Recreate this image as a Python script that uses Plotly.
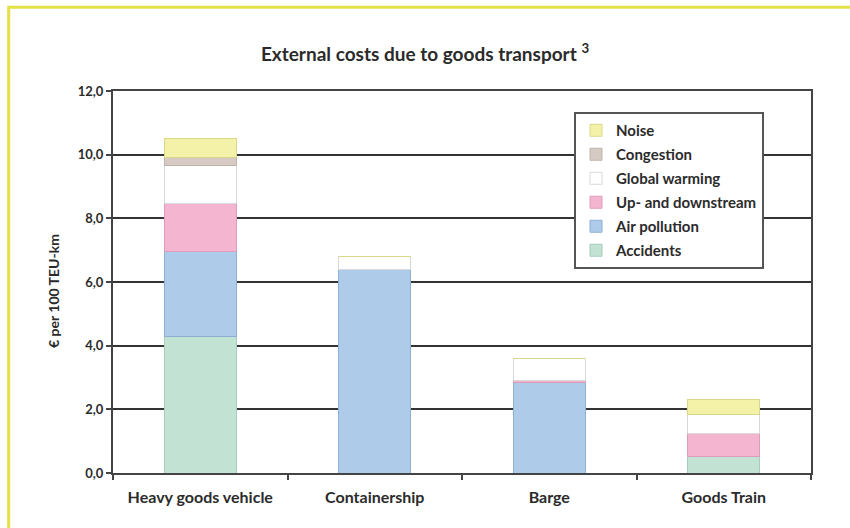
import plotly.graph_objects as go

categories = ["Heavy goods vehicle", "Containership", "Barge", "Goods Train"]
accidents = [4.28, 0.0, 0.0, 0.51]
air_pollution = [2.68, 6.39, 2.85, 0.0]
up_downstream = [1.50, 0.0, 0.05, 0.74]
global_warming = [1.20, 0.42, 0.69, 0.58]
congestion = [0.26, 0.0, 0.0, 0.0]
noise = [0.59, 0.0, 0.0, 0.49]

series = [
    ("Accidents", accidents, "#c2e3d3", "#a6cdb9"),
    ("Air pollution", air_pollution, "#aecbea", "#8eaed3"),
    ("Up- and downstream", up_downstream, "#f4b5d1", "#dd9dba"),
    ("Global warming", global_warming, "#ffffff", "#d8d8d8"),
    ("Congestion", congestion, "#d6cbc4", "#c0b3ab"),
    ("Noise", noise, "#f3f2a8", "#d9d88a"),
]

FONT = "Lato, Open Sans, sans-serif"

fig = go.Figure()
n = len(series)
for i, (name, vals, col, lcol) in enumerate(series):
    fig.add_trace(go.Bar(
        x=categories, y=vals, name=name, legendgroup=f"g{i}",
        legendrank=n - i,
        marker=dict(color=col, line=dict(color=lcol, width=1)),
        width=0.41,
    ))

W, H = 850, 528
L, R, T, B = 113, 811, 91, 473
pw, ph = R - L, B - T

def px(x):
    return (x - L) / pw

def py(y):
    return (B - y) / ph

fig.update_layout(
    width=W, height=H,
    margin=dict(l=L, r=W - R, t=T, b=H - B),
    barmode="stack",
    paper_bgcolor="white",
    plot_bgcolor="white",
    separators=",.",
    font=dict(family=FONT, color="#2b2b2b"),
    title=dict(
        text="External costs due to goods transport <sup>3</sup>",
        x=0.5, xref="container", xanchor="center",
        y=1 - 54 / H, yref="container", yanchor="middle",
        font=dict(size=19, family=FONT, color="#2b2b2b", weight="bold"),
    ),
    legend=dict(
        x=px(764), y=py(112), xanchor="right", yanchor="top",
        traceorder="grouped", tracegroupgap=1.5,
        bgcolor="white", bordercolor="#555555", borderwidth=2,
        font=dict(size=15, family=FONT, color="#2b2b2b", weight="bold"),
        itemwidth=30,
    ),
    showlegend=True,
    xaxis=dict(
        showline=True, linecolor="#444444", linewidth=2, mirror=True,
        ticks="outside", ticklen=5, tickcolor="#444444", tickwidth=1.5,
        tickson="boundaries", ticklabelstandoff=9,
        tickfont=dict(size=16, family=FONT, color="#2b2b2b", weight="bold"),
        showgrid=False,
    ),
    yaxis=dict(
        range=[0, 12], dtick=2, tickformat=".1f",
        showline=True, linecolor="#444444", linewidth=2, mirror=True,
        ticks="outside", ticklen=5, tickcolor="#444444", tickwidth=1.5,
        showgrid=True, gridcolor="#333333", gridwidth=1.5,
        tickfont=dict(size=13, family=FONT, color="#2b2b2b", weight="bold"),
        zeroline=False,
    ),
    annotations=[dict(
        text="€ per 100 TEU-km", textangle=-90,
        x=px(53), y=py(291), xref="paper", yref="paper",
        showarrow=False, xanchor="center", yanchor="middle",
        font=dict(size=14, family=FONT, color="#2b2b2b", weight="bold"),
    )],
    shapes=[
        dict(type="line", xref="paper", yref="paper",
             x0=px(8.7), x1=px(860), y0=py(7.2), y1=py(7.2),
             line=dict(color="#e2e245", width=3)),
        dict(type="line", xref="paper", yref="paper",
             x0=px(8.7), x1=px(8.7), y0=py(5.7), y1=py(540),
             line=dict(color="#e2e245", width=3)),
    ],
)

fig.write_html("out.html")
